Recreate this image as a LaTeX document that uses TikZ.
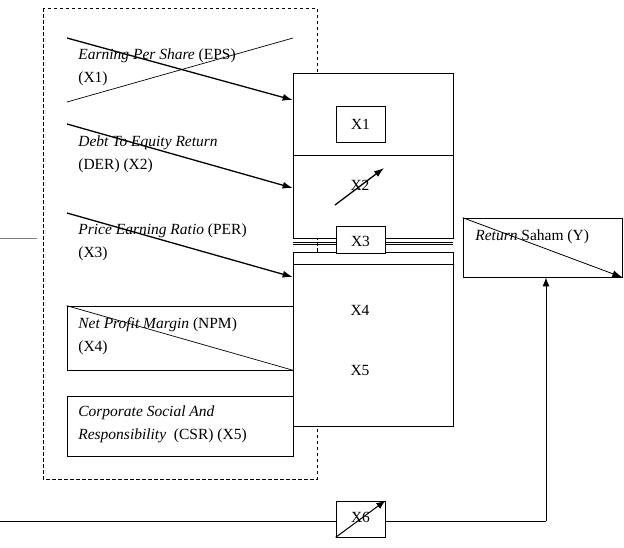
\documentclass[tikz,border=0pt]{standalone}
\usepackage{fontspec}
\setmainfont{Liberation Serif}
\usetikzlibrary{arrows.meta}

\begin{document}
\begin{tikzpicture}[x=1pt,y=-1pt,line width=0.7pt,
    font=\fontsize{15.5}{23}\selectfont]

      \useasboundingbox (0,0) rectangle (624,547);

      \draw[dash pattern=on 3.5pt off 2.5pt] (43,8) rectangle (317,479);

      \draw (293,242) -- (453,242);
      \draw (293,244.5) -- (453,244.5);

      \begin{scope}[every node/.style={draw,fill=white,inner sep=0pt}]
        \node[minimum width=160,minimum height=82] (b1) at (373,114) {};
        \node[minimum width=160,minimum height=83] (b2) at (373,196.5) {};
        \node[minimum width=160,minimum height=173.5] (b3) at (373,339.5) {};
        \node[minimum width=49,minimum height=36] (x1) at (360.5,124) {X1};
        \node[minimum width=49,minimum height=27] (x3) at (360.5,239.5) {};
        \node[minimum width=226,minimum height=64] (npm) at (180,338) {};
        \node[minimum width=226,minimum height=60] (csr) at (180,426) {};
        \node[minimum width=159,minimum height=59] (y) at (542.5,247.5) {};
      \end{scope}

      \draw (293,264) -- (453,264);
      \draw[dash pattern=on 3.5pt off 2.5pt] (317,242) -- (317,252.7);
      \node (x3t) at (360.5,241) {X3};
      \node (x2) at (360,185) {X2};
      \node (x4) at (360,310) {X4};
      \node (x5) at (360,370) {X5};

      \begin{scope}[every node/.style={anchor=west,align=left,inner sep=0pt}]
        \node (eps) at (78,67) {\textit{Earning Per Share} (EPS)\\(X1)};
        \node (der) at (78,154) {\textit{Debt To Equity Return}\\(DER) (X2)};
        \node (per) at (78,242) {\textit{Price Earning Ratio} (PER)\\(X3)};
        \node (npmt) at (78,336) {\textit{Net Profit Margin} (NPM)\\(X4)};
        \node (csrt) at (78,424.5) {\textit{Corporate Social And}\\\textit{Responsibility}\ \ (CSR) (X5)};
        \node (yt) at (475,237) {\textit{Return} Saham (Y)};
      \end{scope}

      \coordinate (a1) at (67,38);
      \coordinate (a2) at (67,124);
      \coordinate (a3) at (67,213);
      \coordinate (c1) at (67,102);
      \coordinate (c2) at (293,38);
      \coordinate (l1) at (0,238);
      \coordinate (l2) at (37,238);
      \coordinate (s0) at (0,521);
      \coordinate (s1) at (546,521);
      \coordinate (d1) at (335,205);
      \coordinate (d2) at (384,168);

      \begin{scope}[every path/.style={-{Latex[length=10pt,width=7pt]},line width=1.3pt}]
        \path (a1) edge (b1.west |- 0,100);
        \path (a2) edge (b2.west |- 0,188);
        \path (a3) edge (b3.west |- 0,277);
        \path (d1) edge (d2);
        \path (y.north west) edge[line width=0.8pt] (y.south east);
      \end{scope}

      \draw (c1) -- (c2);
      \draw (npm.north west) -- (npm.south east);
      \draw[gray] (l1) -- (l2);

      \draw[line width=1pt] (s0) -- (s1);
      \draw[-{Latex[length=9pt,width=7pt]},line width=1pt] (s1) -- (s1 |- y.south);
      \node[draw,fill=white,minimum width=49,minimum height=36,inner sep=0pt] (x6) at (360.5,519) {};
      \node (x6t) at (360.5,517) {X6};
      \draw[-{Latex[length=9pt,width=7pt]},line width=1pt] (x6.south west) -- (x6.north east);

    \end{tikzpicture}
\end{document}
